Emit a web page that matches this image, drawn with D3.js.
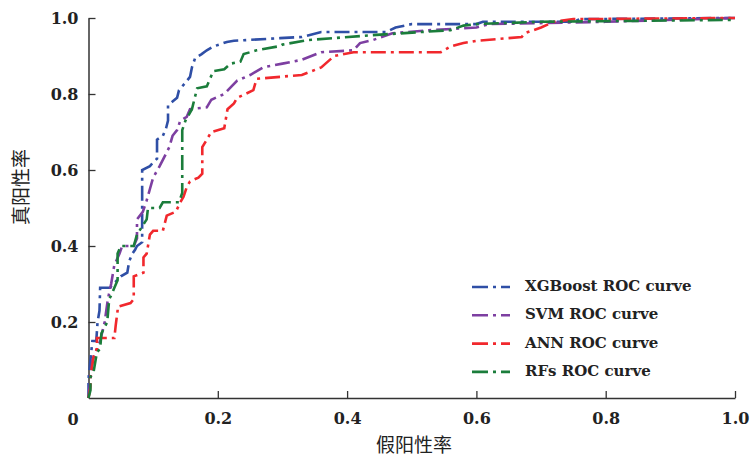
<!doctype html>
<html>
<head>
<meta charset="utf-8">
<style>
    body{ margin:0; background:#fff; }
    .tick text{ font-family:"DejaVu Serif", serif; font-weight:bold; fill:#222; }
</style>
<script src="https://cdnjs.cloudflare.com/ajax/libs/d3/7.8.5/d3.min.js"></script>
</head>
<body>
<div id="chart"></div>
<script>
const width = 752;
const height = 456;

// ROC points [false positive rate, true positive rate]
const xgboost = [[0,0],[0,0.05],[0.003,0.1],[0.006,0.15],[0.012,0.15],[0.014,0.2],[0.017,0.23],[0.018,0.29],[0.033,0.29],[0.05,0.32],[0.06,0.33],[0.063,0.36],[0.068,0.38],[0.072,0.39],[0.075,0.4],[0.083,0.41],[0.083,0.6],[0.095,0.61],[0.1,0.62],[0.106,0.63],[0.106,0.68],[0.115,0.69],[0.12,0.71],[0.123,0.73],[0.123,0.77],[0.13,0.78],[0.137,0.79],[0.14,0.81],[0.15,0.83],[0.157,0.845],[0.16,0.87],[0.165,0.895],[0.175,0.905],[0.183,0.915],[0.193,0.925],[0.214,0.937],[0.225,0.94],[0.296,0.947],[0.33,0.95],[0.36,0.963],[0.46,0.963],[0.475,0.975],[0.5,0.984],[0.6,0.984],[0.61,0.99],[0.75,0.99],[0.76,0.997],[1,1]];
const svm = [[0,0],[0.003,0.05],[0.006,0.1],[0.018,0.15],[0.025,0.2],[0.03,0.26],[0.035,0.3],[0.04,0.35],[0.048,0.38],[0.052,0.4],[0.07,0.4],[0.075,0.42],[0.075,0.47],[0.084,0.49],[0.09,0.52],[0.095,0.55],[0.1,0.58],[0.11,0.61],[0.116,0.63],[0.125,0.66],[0.13,0.69],[0.137,0.705],[0.142,0.73],[0.152,0.74],[0.157,0.76],[0.183,0.765],[0.19,0.785],[0.21,0.8],[0.23,0.835],[0.25,0.85],[0.27,0.87],[0.3,0.88],[0.33,0.89],[0.36,0.91],[0.41,0.915],[0.42,0.934],[0.44,0.942],[0.47,0.96],[0.53,0.968],[0.6,0.975],[0.62,0.984],[0.8,0.99],[1,1]];
const ann = [[0,0],[0.003,0.03],[0.003,0.055],[0.008,0.11],[0.013,0.13],[0.013,0.158],[0.04,0.158],[0.042,0.19],[0.045,0.23],[0.045,0.24],[0.065,0.25],[0.07,0.26],[0.07,0.32],[0.085,0.33],[0.085,0.37],[0.09,0.38],[0.095,0.43],[0.1,0.44],[0.115,0.44],[0.121,0.48],[0.135,0.49],[0.142,0.515],[0.147,0.53],[0.152,0.555],[0.157,0.57],[0.17,0.58],[0.176,0.59],[0.176,0.66],[0.19,0.7],[0.21,0.71],[0.215,0.76],[0.225,0.775],[0.23,0.79],[0.255,0.81],[0.26,0.84],[0.33,0.85],[0.36,0.87],[0.38,0.9],[0.41,0.91],[0.545,0.91],[0.56,0.925],[0.58,0.934],[0.6,0.94],[0.67,0.95],[0.675,0.96],[0.7,0.975],[0.72,0.99],[0.75,0.997],[1,1]];
const rfs = [[0,0],[0.003,0.02],[0.003,0.055],[0.008,0.07],[0.013,0.12],[0.018,0.13],[0.02,0.17],[0.029,0.2],[0.032,0.26],[0.035,0.27],[0.04,0.29],[0.045,0.31],[0.045,0.38],[0.05,0.4],[0.07,0.4],[0.075,0.43],[0.09,0.47],[0.092,0.5],[0.11,0.5],[0.115,0.515],[0.14,0.515],[0.145,0.54],[0.145,0.705],[0.15,0.73],[0.16,0.76],[0.168,0.815],[0.183,0.82],[0.193,0.86],[0.21,0.865],[0.22,0.88],[0.235,0.885],[0.24,0.905],[0.26,0.915],[0.296,0.926],[0.3,0.93],[0.34,0.942],[0.44,0.955],[0.56,0.968],[0.58,0.98],[0.6,0.984],[0.7,0.99],[1,0.995]];

const names = ["XGBoost ROC curve","SVM ROC curve","ANN ROC curve","RFs ROC curve"];
const colors = ["#2f4fa6","#7d3fa1","#f1282d","#1b7d3b"];
const seriesList = [xgboost, svm, ann, rfs];
const tickVals = [0.2,0.4,0.6,0.8,1.0];

const svg = d3.select('#chart').append('svg')
    .attr('width', width)
    .attr('height', height);

const xScale = d3.scaleLinear().domain([0,1]).range([88.5,735]);
const yScale = d3.scaleLinear().domain([0,1]).range([398,18]);

// axes, ticks point inward
const xAxis = d3.axisBottom(xScale)
    .tickValues(tickVals)
    .tickFormat(d3.format('.1f'))
    .tickSizeInner(-7)
    .tickSizeOuter(0)
    .tickPadding(12);
const yAxis = d3.axisLeft(yScale)
    .tickValues(tickVals)
    .tickFormat(d3.format('.1f'))
    .tickSizeInner(-7)
    .tickSizeOuter(0)
    .tickPadding(10);

const gx = svg.append('g')
    .attr('transform','translate(0,398)')
    .call(xAxis);
const gy = svg.append('g')
    .attr('transform','translate(88.5,0)')
    .call(yAxis);

[gx, gy].forEach(function(g){
    g.selectAll('.domain').attr('stroke','#333').attr('stroke-width',1.5);
    g.selectAll('.tick line').attr('stroke','#333').attr('stroke-width',1.3);
    g.selectAll('.tick text').style('font-size','16px');
});
gx.selectAll('.tick text').attr('dy','0.9em');

svg.append('text')
    .attr('x',73).attr('y',425)
    .attr('text-anchor','middle')
    .style('font-family','"DejaVu Serif", serif')
    .style('font-weight','bold')
    .style('font-size','16px')
    .attr('fill','#222')
    .text('0');

// axis titles
svg.append('text')
    .attr('x',414).attr('y',447)
    .attr('text-anchor','middle')
    .attr('dominant-baseline','middle')
    .style('font-family','"Noto Sans CJK SC", sans-serif')
    .style('font-size','19px')
    .attr('fill','#222')
    .text('假阳性率');
svg.append('text')
    .attr('transform','translate(23,187) rotate(-90)')
    .attr('text-anchor','middle')
    .attr('dominant-baseline','middle')
    .style('font-family','"Noto Sans CJK SC", sans-serif')
    .style('font-size','19px')
    .attr('fill','#222')
    .text('真阳性率');

// curves
const line = d3.line()
    .x(d => xScale(d[0]))
    .y(d => yScale(d[1]));

seriesList.forEach(function(s, i){
    svg.append('path')
        .datum(s)
        .attr('fill','none')
        .attr('stroke', colors[i])
        .attr('stroke-width', 2.6)
        .attr('stroke-dasharray','15,5,3,5')
        .attr('d', line);
});

// legend
const legend = svg.append('g').attr('transform','translate(472,287)');
const rows = legend.selectAll('g')
    .data(names)
    .enter()
    .append('g')
    .attr('transform', (d,i) => 'translate(0,' + (i*28.3) + ')');
rows.append('line')
    .attr('x1',0).attr('x2',38)
    .attr('y1',0).attr('y2',0)
    .attr('stroke', (d,i) => colors[i])
    .attr('stroke-width',2.6)
    .attr('stroke-dasharray','16,5,3,5');
rows.append('text')
    .attr('x',53).attr('y',0)
    .attr('dominant-baseline','middle')
    .style('font-family','"DejaVu Serif", serif')
    .style('font-weight','bold')
    .style('font-size','15px')
    .attr('fill','#222')
    .text(d => d);
</script>
</body>
</html>
